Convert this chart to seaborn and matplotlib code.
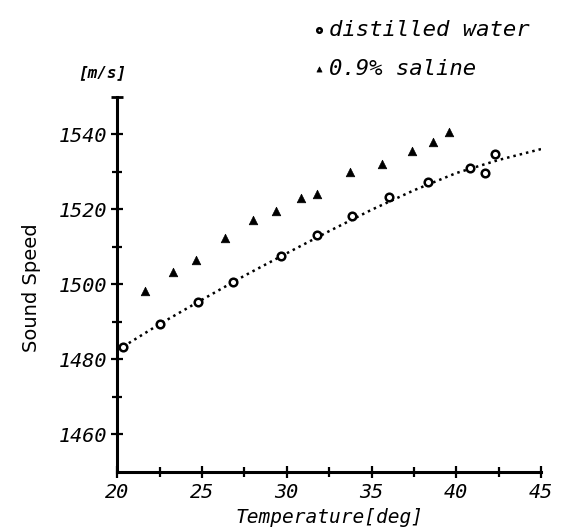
import numpy as np
import pandas as pd
import matplotlib
matplotlib.use("Agg")
import matplotlib.pyplot as plt
import seaborn as sns

# values
water_temp = [20.35, 22.54, 24.75, 26.80, 29.67, 31.78, 33.84, 36.05, 38.33, 40.79, 41.72, 42.31]
water_speed = [1483.4, 1489.5, 1495.3, 1500.7, 1507.7, 1513.2, 1518.3, 1523.3, 1527.4, 1531.1, 1529.7, 1534.8]

saline_temp = [21.64, 23.27, 24.67, 26.34, 28.02, 29.36, 30.83, 31.78, 33.75, 35.62, 37.41, 38.63, 39.59]
saline_speed = [1498.3, 1503.4, 1506.4, 1512.3, 1517.2, 1519.7, 1523.1, 1524.1, 1529.9, 1532.2, 1535.6, 1538.0, 1540.7]

# dotted fit curve through the water data
curve_temp = [20.35, 22.5, 25.0, 27.5, 30.0, 32.5, 35.0, 37.5, 40.0, 42.5, 45.0]
curve_speed = [1483.4, 1489.4, 1495.9, 1502.3, 1508.3, 1514.2, 1519.9, 1525.1, 1529.7, 1533.2, 1536.1]

x_ticks = [20, 25, 30, 35, 40, 45]
y_ticks = [1460, 1480, 1500, 1520, 1540]

water = pd.DataFrame({"temp": water_temp, "speed": water_speed})
saline = pd.DataFrame({"temp": saline_temp, "speed": saline_speed})
curve = pd.DataFrame({"temp": curve_temp, "speed": curve_speed})

sns.set_style("ticks")
plt.rcParams["font.family"] = ["DejaVu Sans Mono", "DejaVu Sans"]
plt.rcParams["text.color"] = "black"
plt.rcParams["axes.labelcolor"] = "black"
plt.rcParams["xtick.color"] = "black"
plt.rcParams["ytick.color"] = "black"

fig = plt.figure(figsize=(5.7, 5.31), dpi=100)
ax = fig.add_axes([0.2058, 0.1117, 0.7433, 0.7056])

sns.lineplot(data=curve, x="temp", y="speed", ax=ax, color="black",
             linestyle=(0, (1, 1.6)), linewidth=1.8, sort=False)
sns.scatterplot(data=water, x="temp", y="speed", ax=ax, marker="o", s=30,
                facecolor="white", edgecolor="black", linewidth=1.8,
                label="distilled water", zorder=3)
sns.scatterplot(data=saline, x="temp", y="speed", ax=ax, marker="^", s=38,
                color="black", edgecolor="black", linewidth=0.5,
                label="0.9% saline", zorder=3)

ax.set_xlim(20, 45)
ax.set_ylim(1450, 1550)
ax.set_xticks(x_ticks)
ax.set_yticks(y_ticks)
ax.set_xticks([22.5, 27.5, 32.5, 37.5, 42.5], minor=True)
ax.set_yticks([1470, 1490, 1510, 1530], minor=True)
ax.set_xticklabels([str(t) for t in x_ticks], fontsize=14.5, style="italic")
ax.set_yticklabels([str(t) for t in y_ticks], fontsize=14.5, style="italic")

sns.despine(ax=ax)
for side in ["left", "bottom"]:
    ax.spines[side].set_linewidth(2.2)
    ax.spines[side].set_color("black")
ax.tick_params(which="major", direction="inout", length=9, width=1.6, color="black", pad=3)
ax.tick_params(which="minor", direction="inout", length=7, width=1.6, color="black")
ax.tick_params(axis="x", which="major", pad=4)

# cap at top of the y axis
ax.plot([20], [1550], marker="_", markersize=9, markeredgewidth=2, color="black", clip_on=False)

ax.set_xlabel("Temperature[deg]", fontsize=14, style="italic", labelpad=4)
ax.set_ylabel("Sound Speed", fontsize=14, family="DejaVu Sans")
ax.yaxis.set_label_coords(-0.18, 0.49)
fig.text(102 / 570, 1 - 73 / 531, "[m/s]", fontsize=11.5, style="italic",
         weight="bold", ha="center", va="center")

ax.legend(loc="upper left", bbox_to_anchor=(296 / 570, 1.0),
          bbox_transform=fig.transFigure, frameon=False, handlelength=0.3,
          handletextpad=0.3, labelspacing=0.85, markerscale=0.6,
          prop={"family": "DejaVu Sans Mono", "style": "italic", "size": 16})

fig.savefig("out.png", dpi=100)
